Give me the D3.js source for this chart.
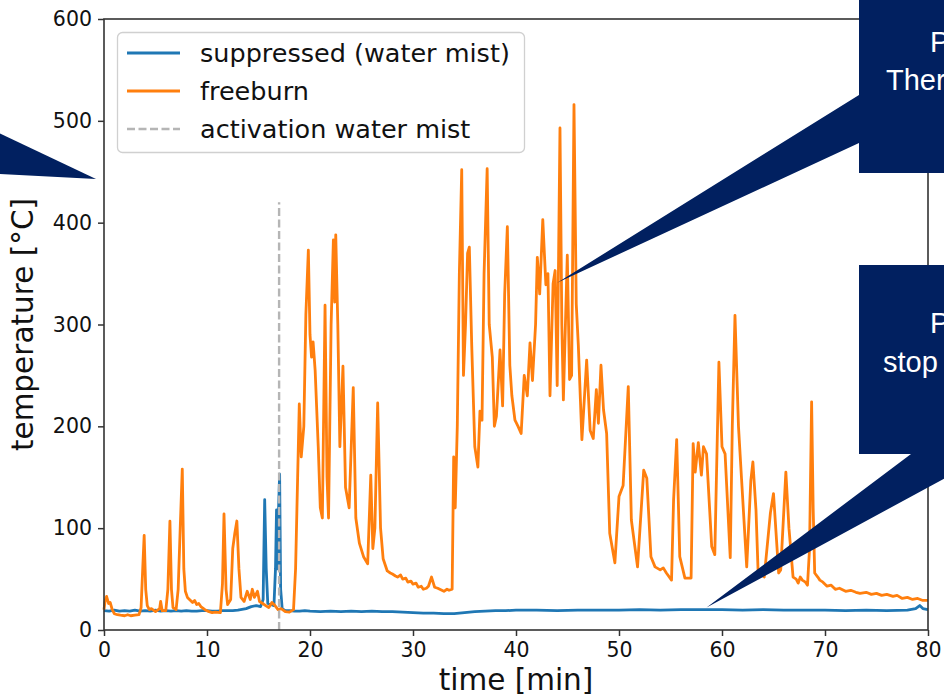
<!DOCTYPE html>
<html><head><meta charset="utf-8">
<script src="https://cdn.jsdelivr.net/npm/d3@7"></script>
<style>body{margin:0;background:#fff}svg{display:block}</style>
</head><body><svg id="c" width="944" height="697"></svg>
<script>
const xTicks = [0,10,20,30,40,50,60,70,80];
const yTicks = [0,100,200,300,400,500,600];
const legendLabels = ["suppressed (water mist)","freeburn","activation water mist"];
const activationTime = 17;
const activationTop = 420;

const suppressed = [[0,19],[0.5,18.5],[1,19.5],[1.5,18.5],[2,19],[2.5,18.5],[3,19.5],[3.5,18.5],[4,19],[4.5,18.5],[5,19.5],[5.5,18.5],[6,19],[6.5,18.5],[7,19],[7.5,18.5],[8,19],[8.5,18.5],[9,18.5],[9.5,19],[10,19],[10.5,18.5],[11,18.5],[11.5,19],[12,19],[12.5,19],[13,19.5],[13.8,21],[14.3,23],[14.8,24],[15.2,23],[15.45,30],[15.6,128],[15.75,60],[15.9,26],[16.2,25],[16.5,24],[16.65,60],[16.75,118],[16.85,60],[16.95,120],[17.05,153],[17.15,40],[17.3,21],[17.6,19],[18,19],[18.5,18.5],[19,18.5],[19.5,19],[20,18.5],[21,18],[22,18.5],[23,18],[24,18.5],[25,18],[26,18.5],[27,18],[28,18],[29,17.5],[30,17],[31,16.5],[32,16.5],[33,16],[34,16],[34.5,16.5],[35,17],[36,18],[37,18.5],[38,19],[39,19],[40,19.5],[42,19.5],[44,19],[46,19.5],[48,19.5],[50,19.5],[52,20],[54,19.5],[56,20],[58,20],[60,20],[62,19.5],[64,20],[66,19.5],[68,19.5],[70,19.5],[72,19],[74,19.5],[76,19],[78,19.5],[78.8,21],[79.2,24],[79.5,21],[80,20]];

const freeburn = [[0,20],[0.1,28],[0.25,33],[0.45,26],[0.6,27],[0.8,20],[1.0,16],[1.3,15],[1.6,14.5],[2,14],[2.3,15],[2.6,14],[3,14.5],[3.4,15],[3.6,22],[3.8,70],[3.9,93],[4.05,40],[4.2,24],[4.4,20],[4.6,21],[5,18],[5.4,21],[5.5,28],[5.65,19],[6.0,19],[6.2,40],[6.4,107],[6.55,40],[6.7,22],[7.0,20],[7.2,40],[7.4,100],[7.6,158],[7.75,60],[7.9,38],[8.1,32],[8.3,30],[8.6,27],[8.8,29],[9.0,25],[9.2,26],[9.4,23],[9.8,20],[10.2,18],[10.5,17],[10.8,17.5],[11.3,17],[11.5,45],[11.65,114],[11.85,40],[12.0,25],[12.3,30],[12.5,80],[12.7,95],[12.9,107],[13.1,60],[13.3,32],[13.6,28],[13.9,38],[14.2,30],[14.4,40],[14.6,32],[14.9,38],[15.1,28],[15.4,26],[15.7,24],[16.0,22],[16.3,27],[16.6,24],[16.9,20],[17.2,21],[17.6,18],[18.0,17.5],[18.4,20],[18.6,60],[18.8,150],[18.96,222],[19.15,170],[19.4,200],[19.6,310],[19.84,373],[20.0,290],[20.15,268],[20.3,283],[20.5,255],[20.8,180],[21.0,120],[21.2,110],[21.46,319],[21.65,150],[21.8,110],[22.05,300],[22.27,383],[22.4,322],[22.5,388],[22.7,300],[22.9,180],[23.2,259],[23.45,140],[23.8,120],[24.2,238],[24.45,110],[24.8,85],[25.2,72],[25.6,65],[25.9,152],[26.1,80],[26.3,100],[26.57,223],[26.85,100],[27.1,70],[27.5,58],[27.8,56],[28,55],[28.3,53],[28.5,52],[28.8,54],[29,50],[29.3,51],[29.5,47],[29.8,48],[30,45],[30.3,46],[30.5,42],[30.8,43],[31,40],[31.3,41],[31.5,43],[31.8,52],[32.1,42],[32.4,41],[32.6,40],[33,38],[33.3,40],[33.5,39],[33.8,40],[33.95,170],[34.1,120],[34.3,200],[34.5,350],[34.73,452],[34.9,250],[35.1,300],[35.3,370],[35.47,376],[35.7,280],[36.0,180],[36.3,160],[36.5,215],[36.7,206],[36.9,350],[37.2,453],[37.4,300],[37.7,268],[37.9,200],[38.1,210],[38.45,275],[38.7,220],[38.9,330],[39.16,396],[39.4,260],[39.6,230],[39.9,206],[40.2,200],[40.5,193],[40.8,250],[41.1,230],[41.36,282],[41.6,245],[41.9,300],[42.07,366],[42.3,330],[42.6,403],[42.9,339],[43.1,350],[43.3,230],[43.6,340],[43.8,353],[44.0,240],[44.27,493],[44.45,300],[44.6,226],[44.98,368],[45.2,246],[45.4,250],[45.63,516],[45.85,320],[46.05,280],[46.4,187],[46.86,265],[47.2,196],[47.5,188],[47.8,236],[48.0,203],[48.25,260],[48.5,216],[48.8,193],[49.1,95],[49.6,66],[50.0,131],[50.4,142],[50.9,239],[51.2,108],[51.8,62],[52.4,157],[52.7,149],[53.1,72],[53.5,62],[54.0,59],[54.3,61],[54.6,56],[55.1,49],[55.3,128],[55.6,187],[55.9,72],[56.4,51],[57.0,51],[57.2,183],[57.4,155],[57.7,184],[58.0,152],[58.2,180],[58.5,173],[59.0,82],[59.3,74],[59.7,263],[60.0,180],[60.3,173],[60.8,71],[61.0,200],[61.26,309],[61.6,200],[61.9,148],[62.4,62],[62.8,147],[63.0,165],[63.3,118],[63.5,59],[63.8,55],[64.1,52],[64.7,115],[65.0,134],[65.5,56],[65.7,59],[66.2,155],[66.5,100],[66.9,52],[67.2,50],[67.4,46],[67.6,52],[67.8,49],[68.1,47],[68.3,44],[68.5,80],[68.7,224],[68.85,120],[69.0,56],[69.3,52],[69.5,49],[69.8,47],[70.2,43],[70.6,44],[71,40],[71.4,41],[72,38],[72.5,39],[73,37],[73.4,36],[74,37],[74.5,35],[75,36],[75.5,34],[76,35],[76.6,33],[77,34],[77.5,31],[78,32],[78.5,30],[79,31],[79.5,29],[80,29]];

const svg = d3.select("#c");
const L = 104, R = 928, T = 19, B = 630;
const x = d3.scaleLinear().domain([0,80]).range([L,R]);
const y = d3.scaleLinear().domain([0,600]).range([B,T]);
const F = "'DejaVu Sans', sans-serif";

const line = d3.line().x(d=>x(d[0])).y(d=>y(d[1]));
const plot = svg.append("g");
plot.append("path").datum(suppressed).attr("d",line).attr("fill","none")
  .attr("stroke","#1f77b4").attr("stroke-width",2.8).attr("stroke-linejoin","round");
plot.append("path").datum(freeburn).attr("d",line).attr("fill","none")
  .attr("stroke","#ff7f0e").attr("stroke-width",2.8).attr("stroke-linejoin","round");
plot.append("line").attr("x1",x(activationTime)).attr("x2",x(activationTime))
  .attr("y1",y(0)).attr("y2",y(activationTop))
  .attr("stroke","#b5b5b5").attr("stroke-width",2.4).attr("stroke-dasharray","8,3.5");

const xa = svg.append("g").attr("transform",`translate(0,${B})`)
  .call(d3.axisBottom(x).tickValues(xTicks).tickSize(6).tickPadding(6));
const ya = svg.append("g").attr("transform",`translate(${L},0)`)
  .call(d3.axisLeft(y).tickValues(yTicks).tickSize(6).tickPadding(6));
[xa,ya].forEach(a=>{
  a.select(".domain").remove();
  a.selectAll(".tick line").attr("stroke","#333").attr("stroke-width",1.5);
  a.selectAll(".tick text").attr("font-family",F).attr("font-size",20.5).attr("fill","#111");
});
svg.append("rect").attr("x",L).attr("y",T).attr("width",R-L).attr("height",B-T)
  .attr("fill","none").attr("stroke","#333").attr("stroke-width",1.6);

svg.append("text").attr("x",(L+R)/2).attr("y",690).attr("text-anchor","middle")
  .attr("font-family",F).attr("font-size",29.5).attr("fill","#111").text("time [min]");
svg.append("text").attr("transform",`translate(33,${(T+B)/2}) rotate(-90)`).attr("text-anchor","middle")
  .attr("font-family",F).attr("font-size",29.5).attr("fill","#111").text("temperature [°C]");

const lg = svg.append("g");
lg.append("rect").attr("x",117.5).attr("y",32.5).attr("width",407).attr("height",120).attr("rx",5)
  .attr("fill","#fff").attr("fill-opacity",0.8).attr("stroke","#d0d0d0").attr("stroke-width",1.3);
const lstyles = [{c:"#1f77b4",d:null},{c:"#ff7f0e",d:null},{c:"#b5b5b5",d:"8,3.5"}];
legendLabels.forEach((t,i)=>{
  const yy = 53 + i*38;
  lg.append("line").attr("x1",127).attr("x2",180).attr("y1",yy).attr("y2",yy)
    .attr("stroke",lstyles[i].c).attr("stroke-width",lstyles[i].d?2.4:2.8).attr("stroke-dasharray",lstyles[i].d);
  lg.append("text").attr("x",200).attr("y",yy+8.7).attr("font-family",F).attr("font-size",25.5)
    .attr("fill","#111").text(t);
});

const navy = "#012060";
const CF = "'Liberation Sans', Arial, sans-serif";
const ann = svg.append("g");
ann.append("path").attr("d",`M-20,124 L${x(0)-8},${y(443)} L-20,173 Z`).attr("fill",navy);
ann.append("path").attr("d",`M859,-5 H960 V173 H859 V143 L${x(44.0)},${y(341)} L859,95 Z`).attr("fill",navy);
ann.append("text").attr("x",930).attr("y",52).attr("font-family",CF).attr("font-size",29).attr("fill","#fff").text("P");
ann.append("text").attr("x",886).attr("y",90).attr("font-family",CF).attr("font-size",29).attr("fill","#fff").text("Ther");
ann.append("path").attr("d",`M859,265 H960 V470 L${x(58.5)},${y(22)} L911,454 H859 Z`).attr("fill",navy);
ann.append("text").attr("x",930).attr("y",333).attr("font-family",CF).attr("font-size",29).attr("fill","#fff").text("P");
ann.append("text").attr("x",883).attr("y",372).attr("font-family",CF).attr("font-size",29).attr("fill","#fff").text("stop");
</script></body></html>
